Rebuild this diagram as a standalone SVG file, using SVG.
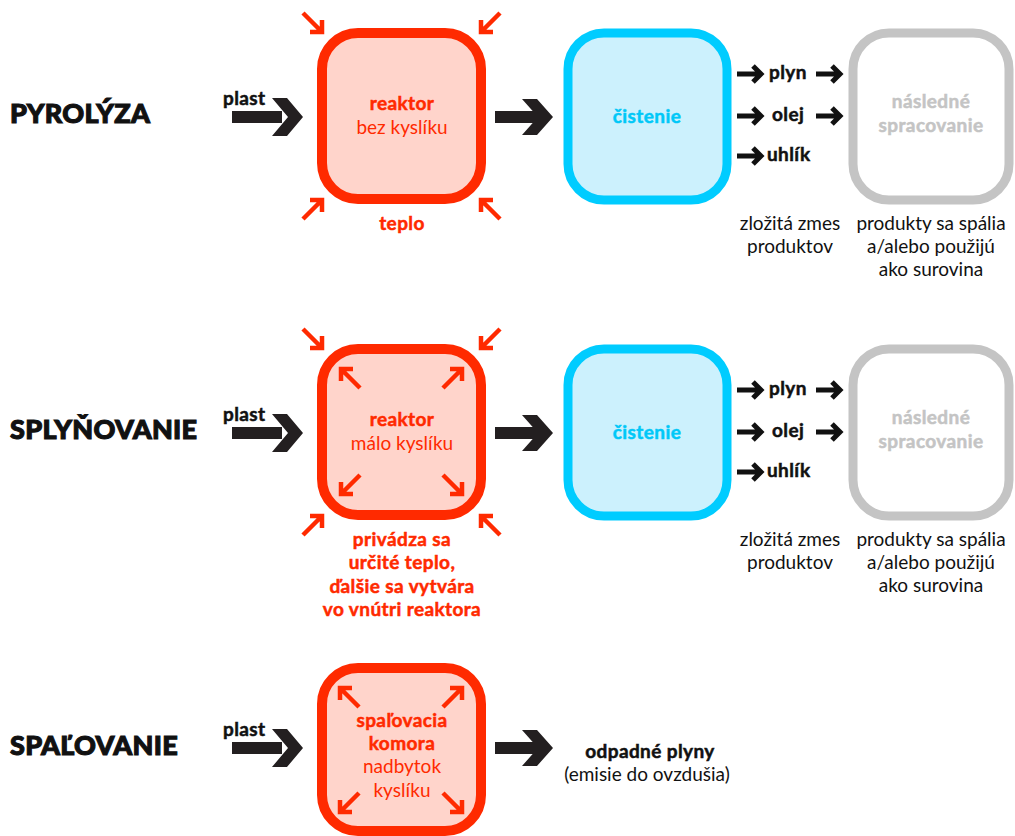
<svg xmlns="http://www.w3.org/2000/svg" xmlns:xlink="http://www.w3.org/1999/xlink" width="1015" height="836" viewBox="0 0 1015 836">
<style>
text{font-family:Lato,"Liberation Sans",sans-serif;}
.title{font-size:27px;font-weight:900;fill:#111;stroke:#111;stroke-width:1.1;letter-spacing:0.3px;}
.b{font-weight:700;letter-spacing:0.4px;stroke-width:0.5;}
.red{fill:#FF2A00;}
.b.red{stroke:#FF2A00;}
.blk{fill:#111;}
.b.blk{stroke:#111;}
.cy{fill:#00C8F8;}
.b.cy{stroke:#00C8F8;}
.gr{fill:#C4C4C4;}
.b.gr{stroke:#C4C4C4;}
.f17{font-size:19px;}
.f18{font-size:19px;}
.mid{text-anchor:middle;}
.rbox{fill:#FFD4CB;stroke:#FF2A00;stroke-width:10;}
.cbox{fill:#CCF1FD;stroke:#00CCFF;stroke-width:9;}
.gbox{fill:#fff;stroke:#C4C4C4;stroke-width:9;}
.big{fill:#231F20;}
.ra{fill:none;stroke:#FF2A00;stroke-width:4.5;}
.sa{fill:none;stroke:#111;stroke-width:5;}
</style>
<defs>
<g id="ra"><path class="ra" d="M-20,-20 L-2,-2 M-13,-1 L-1,-1 L-1,-13"/></g>
<g id="sa"><path class="sa" d="M-26,0 L-3,0 M-10,-8 L-2,0 L-10,8"/></g>
</defs>

<!-- titles -->
<g id="titles">
<text class="title" x="10" y="123">PYROLÝZA</text>
<text class="title" x="10" y="439">SPLYŇOVANIE</text>
<text class="title" x="10" y="755">SPAĽOVANIE</text>
</g>

<!-- row 1 -->
<g id="reaktor1">
<rect class="rbox" x="322" y="33" width="159" height="166" rx="36"/>
<text class="red b f18 mid" x="402" y="110">reaktor</text>
<text class="red f18 mid" x="402" y="134">bez kyslíku</text>
<use xlink:href="#ra" transform="translate(323,33)"/>
<use xlink:href="#ra" transform="translate(480,33) rotate(90)"/>
<use xlink:href="#ra" transform="translate(323,199) rotate(-90)"/>
<use xlink:href="#ra" transform="translate(480,199) rotate(180)"/>
<text class="red b f18 mid" x="402" y="230">teplo</text>
</g>
<g id="cistenie1">
<rect class="cbox" x="568" y="33" width="159" height="167" rx="36"/>
<text class="cy b f18 mid" x="647" y="123">čistenie</text>
</g>
<g id="produkty1">
<text class="blk b f17" x="769" y="79">plyn</text>
<text class="blk b f17" x="772" y="121">olej</text>
<text class="blk b f17" x="767" y="161">uhlík</text>
<text class="blk f17 mid" x="790" y="230">zložitá zmes</text>
<text class="blk f17 mid" x="790" y="253">produktov</text>
</g>
<g id="nasledne1">
<rect class="gbox" x="853" y="33" width="156" height="167" rx="36"/>
<text class="gr b f18 mid" x="931" y="108">následné</text>
<text class="gr b f18 mid" x="931" y="132">spracovanie</text>
<text class="blk f17 mid" x="931" y="230">produkty sa spália</text>
<text class="blk f17 mid" x="931" y="253">a/alebo použijú</text>
<text class="blk f17 mid" x="931" y="276">ako surovina</text>
</g>
<g id="plast1">
<text class="blk b f17" x="223" y="105">plast</text>
</g>

<!-- row 2 -->
<g id="reaktor2">
<rect class="rbox" x="322" y="349" width="159" height="166" rx="36"/>
<text class="red b f18 mid" x="402" y="426">reaktor</text>
<text class="red f18 mid" x="402" y="450">málo kyslíku</text>
<use xlink:href="#ra" transform="translate(323,349)"/>
<use xlink:href="#ra" transform="translate(480,349) rotate(90)"/>
<use xlink:href="#ra" transform="translate(323,515) rotate(-90)"/>
<use xlink:href="#ra" transform="translate(480,515) rotate(180)"/>
<use xlink:href="#ra" transform="translate(340,368) rotate(180)"/>
<use xlink:href="#ra" transform="translate(463,368) rotate(-90)"/>
<use xlink:href="#ra" transform="translate(340,495) rotate(90)"/>
<use xlink:href="#ra" transform="translate(463,495)"/>
<text class="red b f18 mid" x="402" y="546">privádza sa</text>
<text class="red b f18 mid" x="402" y="569">určité teplo,</text>
<text class="red b f18 mid" x="402" y="593">ďalšie sa vytvára</text>
<text class="red b f18 mid" x="402" y="616">vo vnútri reaktora</text>
</g>
<g id="cistenie2">
<rect class="cbox" x="568" y="349" width="159" height="167" rx="36"/>
<text class="cy b f18 mid" x="647" y="439">čistenie</text>
</g>
<g id="produkty2">
<text class="blk b f17" x="769" y="395">plyn</text>
<text class="blk b f17" x="772" y="437">olej</text>
<text class="blk b f17" x="767" y="477">uhlík</text>
<text class="blk f17 mid" x="790" y="546">zložitá zmes</text>
<text class="blk f17 mid" x="790" y="569">produktov</text>
</g>
<g id="nasledne2">
<rect class="gbox" x="853" y="349" width="156" height="167" rx="36"/>
<text class="gr b f18 mid" x="931" y="424">následné</text>
<text class="gr b f18 mid" x="931" y="448">spracovanie</text>
<text class="blk f17 mid" x="931" y="546">produkty sa spália</text>
<text class="blk f17 mid" x="931" y="569">a/alebo použijú</text>
<text class="blk f17 mid" x="931" y="592">ako surovina</text>
</g>
<g id="plast2">
<text class="blk b f17" x="223" y="421">plast</text>
</g>

<!-- row 3 -->
<g id="komora3">
<rect class="rbox" x="322" y="668" width="159" height="163" rx="36"/>
<use xlink:href="#ra" transform="translate(339,687) rotate(180)"/>
<use xlink:href="#ra" transform="translate(463,687) rotate(-90)"/>
<use xlink:href="#ra" transform="translate(339,813) rotate(90)"/>
<use xlink:href="#ra" transform="translate(463,813)"/>
<text class="red b f18 mid" x="402" y="727">spaľovacia</text>
<text class="red b f18 mid" x="402" y="750">komora</text>
<text class="red f18 mid" x="402" y="773">nadbytok</text>
<text class="red f18 mid" x="402" y="797">kyslíku</text>
</g>
<g id="plast3">
<text class="blk b f17" x="223" y="736">plast</text>
</g>
<g id="odpadne3">
<text class="blk b f18 mid" x="650" y="758">odpadné plyny</text>
<text class="blk f17 mid" x="647" y="781">(emisie do ovzdušia)</text>
</g>

<!-- connectors -->
<g id="connectors">
<path class="big" d="M232,111 H282 V123 H232 Z M272,98 H287 L303,117 L287,136 H272 L288,117 Z"/>
<path class="big" d="M495,111 H540 V123 H495 Z M522,99 H537 L553,117 L537,135 H522 L538,117 Z"/>
<use xlink:href="#sa" transform="translate(763,74)"/>
<use xlink:href="#sa" transform="translate(842,74)"/>
<use xlink:href="#sa" transform="translate(763,116)"/>
<use xlink:href="#sa" transform="translate(842,116)"/>
<use xlink:href="#sa" transform="translate(763,156)"/>

<path class="big" d="M232,427 H282 V439 H232 Z M272,414 H287 L303,433 L287,452 H272 L288,433 Z"/>
<path class="big" d="M495,427 H540 V439 H495 Z M522,415 H537 L553,433 L537,451 H522 L538,433 Z"/>
<use xlink:href="#sa" transform="translate(763,390)"/>
<use xlink:href="#sa" transform="translate(842,390)"/>
<use xlink:href="#sa" transform="translate(763,432)"/>
<use xlink:href="#sa" transform="translate(842,432)"/>
<use xlink:href="#sa" transform="translate(763,472)"/>

<path class="big" d="M232,742 H282 V754 H232 Z M272,729 H287 L303,748 L287,767 H272 L288,748 Z"/>
<path class="big" d="M495,742 H540 V754 H495 Z M522,730 H537 L553,748 L537,766 H522 L538,748 Z"/>
</g>
</svg>
